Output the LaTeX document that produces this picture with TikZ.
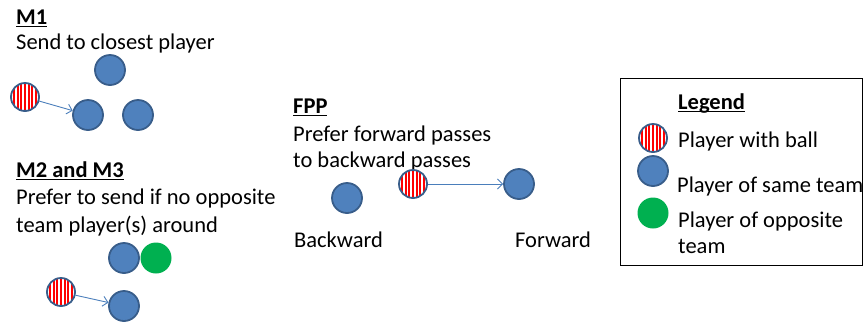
\documentclass[tikz,border=0pt]{standalone}
\usepackage{fontspec}
\setmainfont{Carlito}
\usetikzlibrary{arrows.meta}
\definecolor{pfill}{HTML}{4F81BD}
\definecolor{pdraw}{HTML}{385D8A}
\definecolor{oppgreen}{HTML}{00B050}
\definecolor{arrowblue}{HTML}{4A7EBB}
\definecolor{stripered}{HTML}{FF0000}
\newcommand{\ulbf}[1]{\setbox0\hbox{#1}\rlap{\rule[-3.2pt]{\wd0}{1.6pt}}\box0}
\tikzset{
  txt/.style={anchor=base west, inner sep=0pt, font=\fontsize{22.5}{27}\selectfont},
  ttl/.style={txt, font=\fontsize{22.5}{27}\selectfont\bfseries},
  same/.style={circle, minimum size=30pt, inner sep=0pt, fill=pfill, draw=pdraw, line width=1.8pt},
  opp/.style={circle, minimum size=31pt, inner sep=0pt, fill=oppgreen},
  ball/.style={circle, minimum size=28pt, inner sep=0pt, fill=white, draw=pdraw, line width=1.8pt,
    path picture={\foreach \i in {-4,...,4}{\fill[stripered] ([xshift=\i*3.6pt-1pt,yshift=-20pt]path picture bounding box.center) rectangle ++(2pt,40pt);}}},
  pass/.style={draw=arrowblue, line width=0.9pt, -{Straight Barb[length=5pt,width=10pt]}},
  legendbox/.style={draw=black, line width=0.9pt}
}
\begin{document}
\begin{tikzpicture}[x=1pt,y=-1pt]
\useasboundingbox (0,0) rectangle (864,322);
% M1
\node[ttl] (m1t) at (16,24) {\ulbf{M1}};
\node[txt] (m1d) at (16,49) {Send to closest player};
\node[same] (m1a) at (110,70) {};
\node[ball] (m1b) at (25,97) {};
\node[same] (m1c) at (88,115) {};
\node[same] (m1d2) at (138,115) {};
\draw[pass] (m1b) -- (m1c);
% M2 and M3
\node[ttl] (m2t) at (16,177) {\ulbf{M2 and M3}};
\node[txt] (m2d1) at (16,204) {Prefer to send if no opposite};
\node[txt] (m2d2) at (16,232) {team player(s) around};
\node[same] (m2a) at (124,258) {};
\node[opp] (m2g) at (156,258) {};
\node[ball] (m2b) at (61,292) {};
\node[same] (m2c) at (124,306) {};
\draw[pass] (m2b) -- (m2c);
% FPP
\node[ttl] (ft) at (293,113) {\ulbf{FPP}};
\node[txt] (fd1) at (293,141) {Prefer forward passes};
\node[txt] (fd2) at (293,167) {to backward passes};
\node[same] (fb) at (347,198) {};
\node[ball] (fr) at (413,184) {};
\node[same] (ff) at (519,184) {};
\draw[pass] (fr) -- (ff);
\node[txt] (bl) at (294,247) {Backward};
\node[txt] (fl) at (515,247) {Forward};
% Legend
\draw[legendbox] (620,78) rectangle (862,265);
\node[ttl] (lt) at (678,109) {\ulbf{Legend}};
\node[ball] (lb) at (653,138) {};
\node[same] (ls) at (653,171) {};
\node[opp] (lo) at (653,213) {};
\node[txt] (lbt) at (678,147) {Player with ball};
\node[txt] (lst) at (677,192) {Player of same team};
\node[txt] (lot1) at (678,227) {Player of opposite};
\node[txt] (lot2) at (678,253) {team};
\end{tikzpicture}
\end{document}
